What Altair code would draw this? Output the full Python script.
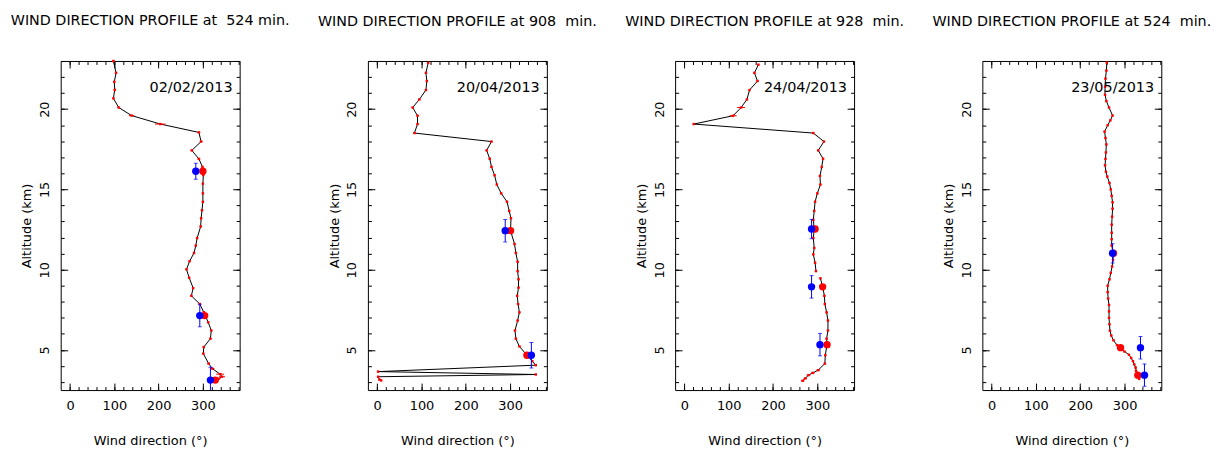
import altair as alt
import pandas as pd

# ---------------- data ----------------
titles = ["WIND DIRECTION PROFILE at \u00a0524 min.",
          "WIND DIRECTION PROFILE at 908 \u00a0min.",
          "WIND DIRECTION PROFILE at 928 \u00a0min.",
          "WIND DIRECTION PROFILE at 524 \u00a0min."]
dates = ["02/02/2013", "20/04/2013", "24/04/2013", "23/05/2013"]

# panel 1
p1_alt = [23.0, 22.26, 21.7, 21.2, 20.67, 20.1, 19.6, 19.07, 18.55, 17.98, 17.43, 16.9, 16.4, 15.9, 15.36,
          14.75, 14.23, 13.7, 13.2, 12.69, 11.97, 11.5, 11.04, 10.53, 10.02, 9.5, 8.85, 8.37, 7.86, 7.35,
          6.72, 6.21, 5.7, 5.18, 4.77, 4.15, 3.84, 3.49, 3.33, 3.2, 3.1]
p1_dir = [98, 104, 100, 101, 98, 110, 139, 204, 291, 296, 275, 291, 299, 301, 300,
          300, 300, 298, 296, 295, 287, 284, 280, 270, 263, 269, 278, 274, 293, 302,
          312, 319, 317, 302, 301, 313, 321, 339, 343, 335, 328]
p1_err = [2, 2, 2, 2, 2, 3, 6, 12, 3, 3, 3, 3, 2, 2, 2,
          2, 2, 2, 2, 2, 2, 2, 2, 2, 2, 2, 2, 2, 2, 2,
          2, 2, 2, 2, 2, 3, 5, 9, 7, 5, 5]
p1_seg = [0] * 41

# panel 2
p2_alt = [22.88, 22.26, 21.75, 21.19, 20.6, 20.1, 19.59, 19.07, 18.51, 17.98, 17.43, 16.91, 16.4, 15.88, 15.3,
          14.75, 14.23, 13.66, 13.2, 12.43, 11.6, 11.04, 10.49, 9.91, 9.4, 8.88, 8.37, 7.86, 7.34, 6.83,
          6.21, 5.7, 5.22, 4.67, 4.3, 4.05, 3.65, 3.47, 3.33, 3.15, 3.1]
p2_dir = [115, 110, 112, 110, 95, 80, 91, 91, 84, 258, 247, 254, 258, 265, 270,
          280, 293, 298, 302, 301, 310, 313, 317, 317, 319, 319, 316, 318, 321, 317,
          311, 313, 321, 338, 350, 358, 2, 358, 2, 5, 9]
p2_err = [2] * 41
p2_seg = [0] * 41

# panel 3
p3_alt = [22.77, 22.26, 21.75, 21.19, 20.6, 20.1, 19.59, 19.07, 18.51, 17.98, 17.43, 16.91, 16.4, 15.84, 15.3,
          14.75, 14.23, 13.66, 13.1, 12.53, 11.97, 11.35, 10.95, 10.43, 9.91, 9.46, 8.93, 8.37, 7.86, 7.34,
          6.83, 6.21, 5.7, 5.33, 4.67, 4.15, 3.74, 3.57, 3.43, 3.23, 3.08]
p3_dir = [167, 158, 165, 147, 141, 128, 110, 21, 291, 315, 302, 313, 310, 306, 307,
          300, 295, 293, 291, 293, 291, 293, 291, 295, 297, 307, 312, 316, 317, 321,
          324, 324, 321, 322, 318, 317, 302, 290, 280, 273, 267]
p3_err = [2, 2, 2, 2, 2, 9, 8, 2, 2, 2, 2, 2, 2, 2, 2,
          2, 2, 2, 2, 2, 2, 2, 2, 2, 2, 2, 2, 2, 2, 2,
          2, 2, 2, 2, 2, 2, 4, 4, 4, 4, 4]
p3_seg = [0] * 25 + [1] * 16

# panel 4
p4_alt = [22.9, 22.4, 21.9, 21.4, 20.9, 20.5, 20.1, 19.6, 19.3, 19.0, 18.6, 18.2, 17.8, 17.3, 16.9,
          16.5, 16.1, 15.8, 15.4, 15.0, 14.6, 14.2, 13.8, 13.3, 12.8, 12.3, 11.9, 11.5, 11.0, 10.6,
          10.2, 9.8, 9.4, 9.0, 8.6, 8.2, 7.8, 7.4, 7.0, 6.6, 6.2, 5.9, 5.6, 5.3, 5.1,
          4.9, 4.7, 4.5, 4.3, 4.1, 3.9, 3.7, 3.5, 3.35, 3.2]
p4_dir = [260, 259, 257, 256, 256, 259, 265, 273, 268, 262, 255, 257, 259, 258, 257,
          256, 258, 261, 266, 269, 271, 273, 273, 272, 271, 271, 271, 271, 275, 274,
          272, 269, 266, 262, 262, 263, 265, 265, 265, 266, 267, 270, 275, 283, 291,
          300, 310, 315, 319, 322, 325, 326, 330, 335, 333]
p4_err = [2] * 55
p4_seg = [0] * 55

# big red markers and blue markers (with altitude error)
big_alt = [[16.13, 7.14, 3.12], [12.43, 4.67], [12.53, 8.93, 5.33], [11.02, 5.14, 3.43]]
red_dir = [[300, 304, 328], [301, 338], [295, 312, 322], [275, 291, 330]]
blue_dir = [[284, 293, 317], [289, 348], [287, 287, 306], [273, 336, 345]]
blue_err = [[0.5, 0.7, 0.8], [0.7, 0.8], [0.6, 0.7, 0.7], [0.6, 0.7, 0.7]]

alts = [p1_alt, p2_alt, p3_alt, p4_alt]
dirs = [p1_dir, p2_dir, p3_dir, p4_dir]
errs = [p1_err, p2_err, p3_err, p4_err]
segs = [p1_seg, p2_seg, p3_seg, p4_seg]

XDOM = [-21, 383]
YDOM = [2.5, 23]
X_MAJOR = [0, 100, 200, 300]
X_MINOR = list(range(0, 381, 20))
Y_MAJOR = [5, 10, 15, 20]
Y_MINOR = list(range(3, 24))

FONT = "DejaVu Sans"
MAJ = 7
MIN = 3.5


def ax(orient, values, size, labels=False, title=None, **kw):
    d = dict(orient=orient, values=values, tickSize=size, offset=-size, labels=labels,
             domain=False, grid=False, ticks=True, tickColor="black", tickWidth=1,
             labelFont=FONT, labelFontSize=13, labelColor="black",
             titleFont=FONT, titleFontSize=13, titleFontWeight="normal", titleColor="black")
    d["title"] = title
    d.update(kw)
    return alt.Axis(**d)


def panel(k):
    prof = pd.DataFrame({"dir": dirs[k], "alt": alts[k], "err": errs[k], "seg": segs[k]})
    prof["idx"] = range(len(prof))
    prof["lo"] = prof["dir"] - prof["err"]
    prof["hi"] = prof["dir"] + prof["err"]
    big = pd.DataFrame({"dir": red_dir[k], "alt": big_alt[k]})
    blue = pd.DataFrame({"dir": blue_dir[k], "alt": big_alt[k], "e": blue_err[k]})
    blue["ylo"] = blue["alt"] - blue["e"]
    blue["yhi"] = blue["alt"] + blue["e"]

    xs = alt.Scale(domain=XDOM, nice=False, zero=False)
    ys = alt.Scale(domain=YDOM, nice=False, zero=False)

    ax_b = ax("bottom", X_MAJOR, MAJ, labels=True, title="Wind direction (\u00b0)",
              labelPadding=10, titlePadding=22, format="d")
    ax_l = ax("left", Y_MAJOR, MAJ, labels=True, title="Altitude (km)",
              labelPadding=12, labelAngle=270, labelAlign="center", labelBaseline="alphabetic",
              titlePadding=5, format="d")

    line = alt.Chart(prof).mark_line(color="black", strokeWidth=1).encode(
        x=alt.X("dir:Q", scale=xs, axis=ax_b),
        y=alt.Y("alt:Q", scale=ys, axis=ax_l),
        detail="seg:N",
        order="idx:Q",
    )
    rerr = alt.Chart(prof).mark_rule(color="red", strokeWidth=1).encode(
        x=alt.X("lo:Q", scale=xs, axis=ax("top", X_MAJOR, MAJ)),
        x2="hi:Q",
        y=alt.Y("alt:Q", scale=ys, axis=ax("right", Y_MAJOR, MAJ)),
    )
    rpts = alt.Chart(prof).mark_square(color="red", size=6, opacity=1).encode(
        x=alt.X("dir:Q", scale=xs, axis=ax("bottom", X_MINOR, MIN)),
        y=alt.Y("alt:Q", scale=ys, axis=ax("left", Y_MINOR, MIN)),
    )
    bigr = alt.Chart(big).mark_circle(color="red", size=55, opacity=1).encode(
        x=alt.X("dir:Q", scale=xs, axis=ax("top", X_MINOR, MIN)),
        y=alt.Y("alt:Q", scale=ys, axis=ax("right", Y_MINOR, MIN)),
    )
    brule = alt.Chart(blue).mark_rule(color="blue", strokeWidth=1, clip=True).encode(
        x=alt.X("dir:Q", scale=xs, axis=None),
        y=alt.Y("ylo:Q", scale=ys, axis=None),
        y2="yhi:Q",
    )
    bcap1 = alt.Chart(blue).mark_tick(color="blue", orient="horizontal", size=4, thickness=1, clip=True).encode(
        x=alt.X("dir:Q", scale=xs, axis=None),
        y=alt.Y("ylo:Q", scale=ys, axis=None),
    )
    bcap2 = alt.Chart(blue).mark_tick(color="blue", orient="horizontal", size=4, thickness=1, clip=True).encode(
        x=alt.X("dir:Q", scale=xs, axis=None),
        y=alt.Y("yhi:Q", scale=ys, axis=None),
    )
    bdot = alt.Chart(blue).mark_circle(color="blue", size=55, opacity=1).encode(
        x=alt.X("dir:Q", scale=xs, axis=None),
        y=alt.Y("alt:Q", scale=ys, axis=None),
    )
    date = alt.Chart(pd.DataFrame({"t": [dates[k]], "x": [367], "y": [21.33]})).mark_text(
        align="right", baseline="middle", fontSize=14.5, font=FONT, color="black"
    ).encode(
        x=alt.X("x:Q", scale=xs, axis=None),
        y=alt.Y("y:Q", scale=ys, axis=None),
        text="t:N",
    )

    return alt.layer(line, rerr, rpts, bigr, brule, bcap1, bcap2, bdot, date).resolve_axis(
        x="independent", y="independent"
    ).properties(
        width=180, height=331,
        title=alt.TitleParams(titles[k], anchor="middle", frame="group", fontSize=14.4,
                              fontWeight="normal", font=FONT, color="black", offset=31),
    )


chart = alt.hconcat(*[panel(k) for k in range(4)], spacing=129, bounds="flush").properties(
    padding={"left": 2, "top": 3, "right": 0, "bottom": 0},
    background="white",
).configure(
    font=FONT
).configure_view(
    stroke="black", strokeWidth=1
).configure_axis(
    labelFont=FONT, labelFontSize=13, labelColor="black",
    titleFont=FONT, titleFontSize=13, titleFontWeight="normal", titleColor="black",
)

chart.save("out.html", embed_options={"renderer": "svg", "actions": False})
